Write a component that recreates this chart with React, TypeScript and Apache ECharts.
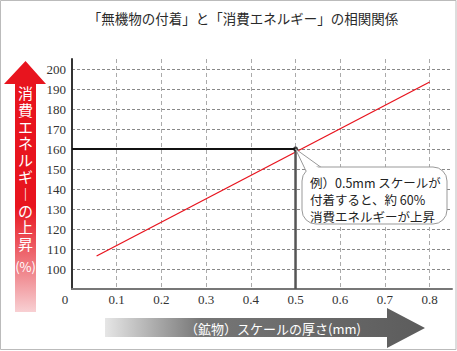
import React, { useEffect, useRef } from "react";
import * as echarts from "echarts";

const titleText = "「無機物の付着」と「消費エネルギー」の相関関係";
const xTickLabels = ["0", "0.1", "0.2", "0.3", "0.4", "0.5", "0.6", "0.7", "0.8"];
const yTickLabels = ["100", "110", "120", "130", "140", "150", "160", "170", "180", "190", "200"];
const trendX = [0.055, 0.8];
const trendY = [106.5, 193.5];
const refPoint = [0.5, 160];
const yAxisLabel = ["消", "費", "エ", "ネ", "ル", "ギ", "︱", "の", "上", "昇"];
const yAxisUnit = "(%)";
const xAxisLabel = "（鉱物）スケールの厚さ(mm)";
const noteLines = ["例）0.5mm スケールが", "付着すると、約 60%", "消費エネルギーが上昇"];

const X_MIN = 0, X_MAX = 0.85, Y_MIN = 90, Y_MAX = 205;

export default function App() {
  const ref = useRef<HTMLDivElement>(null);
  useEffect(() => {
    document.body.style.margin = "0";
    const chart = echarts.init(ref.current!, undefined, { renderer: "svg" });
    const serif = "Liberation Serif";
    const jp = "Noto Sans CJK JP";
    const option: any = {
      animation: false,
      backgroundColor: "#ffffff",
      title: {
        text: titleText,
        left: 238,
        top: 6,
        textAlign: "center",
        textStyle: { fontFamily: jp, fontSize: 13.5, fontWeight: "normal", color: "#2a2a2a" },
      },
      grid: { left: 72, right: 5, top: 59, bottom: 62 },
      xAxis: {
        type: "value",
        min: X_MIN,
        max: X_MAX,
        interval: 0.1,
        axisLine: { show: true, lineStyle: { color: "#777", width: 2 } },
        axisTick: { show: false },
        axisLabel: {
          margin: 4,
          showMaxLabel: false,
          fontFamily: serif,
          fontSize: 13,
          color: "#333",
          formatter: (v: number) => {
            const i = Math.round(v * 10);
            if (Math.abs(v * 10 - i) > 1e-6 || i >= xTickLabels.length) return "";
            return i === 0 ? "{z|" + xTickLabels[0] + "}" : xTickLabels[i];
          },
          rich: { z: { padding: [0, 14, 0, 0], fontFamily: serif, fontSize: 13, color: "#333" } },
        },
        splitLine: { show: true, showMinLine: false, showMaxLine: false, lineStyle: { color: "#aaa", type: [4, 3], width: 1 } },
      },
      yAxis: {
        type: "value",
        min: Y_MIN,
        max: Y_MAX,
        interval: 10,
        axisLine: { show: true, lineStyle: { color: "#333", width: 2 } },
        axisTick: { show: false },
        axisLabel: {
          margin: 6,
          showMaxLabel: false,
          fontFamily: serif,
          fontSize: 13,
          color: "#333",
          formatter: (v: number) => {
            const i = Math.round((v - 100) / 10);
            if (i < 0 || i >= yTickLabels.length || Math.abs(v - 100 - i * 10) > 1e-6) return "";
            return yTickLabels[i];
          },
        },
        splitLine: { show: true, showMinLine: false, showMaxLine: false, lineStyle: { color: "#888", type: [3, 2], width: 1 } },
      },
      series: [
        {
          type: "line",
          data: trendX.map((x, i) => [x, trendY[i]]),
          symbol: "none",
          lineStyle: { color: "#e8141e", width: 1.3 },
          z: 3,
        },
        {
          type: "line",
          data: [[X_MIN, refPoint[1]], [refPoint[0], refPoint[1]]],
          symbol: "none",
          lineStyle: { color: "#111", width: 2 },
          z: 4,
        },
        {
          type: "line",
          data: [[refPoint[0], refPoint[1]], [refPoint[0], Y_MIN]],
          symbol: "none",
          lineStyle: { color: "#555", width: 2.5 },
          z: 4,
        },
        {
          type: "scatter",
          data: [refPoint],
          symbol: "circle",
          symbolSize: 5,
          itemStyle: { color: "#111" },
          z: 5,
        },
      ],
    };
    chart.setOption(option);

    const p = chart.convertToPixel({ gridIndex: 0 }, refPoint) as number[];
    const boxX = 302, boxY = 167, boxW = 145, boxH = 57;
    const charTexts = yAxisLabel.map((ch, i) => ({
      type: "text",
      x: 25.5,
      y: 92.5 + i * 16.8,
      style: { text: ch, fill: "#fff", font: "15px " + jp, align: "center", verticalAlign: "middle" },
      z: 11,
    }));
    chart.setOption({
      graphic: [
        // left red arrow
        {
          type: "polygon",
          shape: { points: [[25.5, 61], [46, 84], [36, 84], [36, 312], [15, 312], [15, 84], [4, 84]] },
          style: {
            fill: new echarts.graphic.LinearGradient(0, 0, 0, 1, [
              { offset: 0, color: "#e8141e" },
              { offset: 0.58, color: "#e8141e" },
              { offset: 0.85, color: "#f08a90" },
              { offset: 1, color: "#f8d0d3" },
            ]),
          },
          z: 10,
        },
        ...charTexts,
        {
          type: "text",
          x: 25.5,
          y: 266,
          style: { text: yAxisUnit, fill: "#fff", font: "13px " + jp, align: "center", verticalAlign: "middle" },
          z: 11,
        },
        // bottom grey arrow
        {
          type: "polygon",
          shape: { points: [[105, 318], [387, 318], [387, 308], [425, 328], [387, 348], [387, 337], [105, 337]] },
          style: {
            fill: new echarts.graphic.LinearGradient(0, 0, 1, 0, [
              { offset: 0, color: "#e6e6e6" },
              { offset: 0.3, color: "#767676" },
              { offset: 1, color: "#5c5c5c" },
            ]),
          },
          z: 10,
        },
        {
          type: "text",
          x: 273,
          y: 328,
          style: { text: xAxisLabel, fill: "#fff", font: "13px " + jp, align: "center", verticalAlign: "middle" },
          z: 11,
        },
        // callout
        {
          type: "polygon",
          shape: { points: [[p[0], p[1]], [boxX + 4, boxY + 4], [boxX + 20, boxY + 1]] },
          style: { fill: "#fff", stroke: "#999", lineWidth: 1 },
          z: 12,
        },
        {
          type: "rect",
          shape: { x: boxX, y: boxY, width: boxW, height: boxH, r: 14 },
          style: { fill: "#fff", stroke: "#999", lineWidth: 1 },
          z: 13,
        },
        {
          type: "polygon",
          shape: { points: [[p[0] + 6, p[1] + 7], [boxX + 5, boxY + 5], [boxX + 18, boxY + 2]] },
          style: { fill: "#fff", lineWidth: 0 },
          z: 14,
        },
        {
          type: "text",
          x: 310,
          y: 173.5,
          style: {
            text: noteLines.join("\n"),
            fill: "#222",
            font: "12.5px " + jp,
            lineHeight: 17,
            align: "left",
            verticalAlign: "top",
          },
          z: 15,
        },
        // frame
        {
          type: "rect",
          shape: { x: 0.5, y: 0.5, width: 455.5, height: 349 },
          style: { fill: "none", stroke: "#bbb", lineWidth: 1 },
          z: 20,
          silent: true,
        },
      ],
    });
    return () => chart.dispose();
  }, []);
  return <div ref={ref} style={{ position: "absolute", left: 0, top: 0, width: 457, height: 351 }} />;
}
